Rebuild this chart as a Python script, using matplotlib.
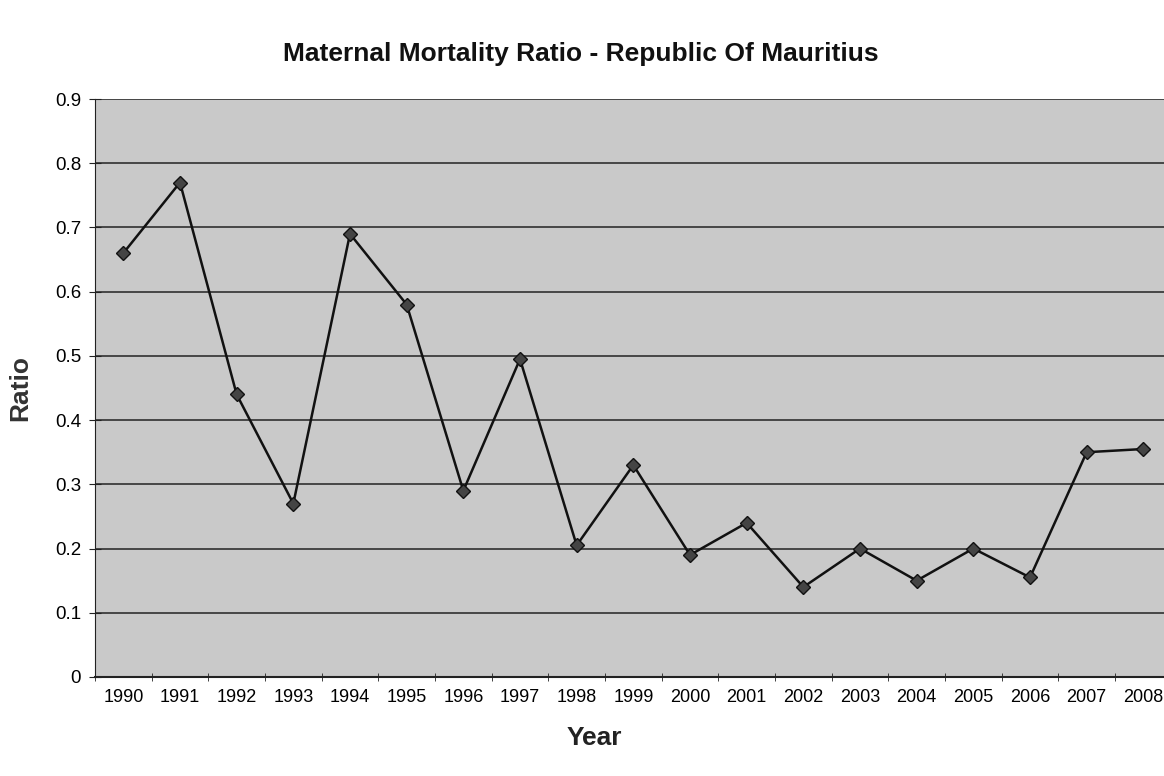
import matplotlib.pyplot as plt
import numpy as np

years = ['1990', '1991', '1992', '1993', '1994', '1995', '1996', '1997', '1998', '1999',
         '2000', '2001', '2002', '2003', '2004', '2005', '2006', '2007', '2008']
ratio = [0.66, 0.77, 0.44, 0.27, 0.69, 0.58, 0.29, 0.495, 0.205, 0.33,
         0.19, 0.24, 0.14, 0.20, 0.15, 0.20, 0.155, 0.35, 0.355]
y_ticks = [0, 0.1, 0.2, 0.3, 0.4, 0.5, 0.6, 0.7, 0.8, 0.9]

plt.rcParams['font.family'] = ['Liberation Sans', 'DejaVu Sans']

fig = plt.figure(figsize=(11.64, 7.76), dpi=100)
ax = fig.add_axes([0.0816, 0.1276, 0.925, 0.7448])
ax.set_facecolor('#c9c9c9')

x = np.arange(len(years))
ax.plot(x, ratio, color='#111111', linewidth=1.8, marker='D', markersize=7,
        markerfacecolor='#444444', markeredgecolor='#111111', zorder=3)

ax.set_xlim(-0.5, len(years) - 0.5)
ax.set_ylim(0, 0.9)
ax.set_yticks(y_ticks)
ax.set_yticklabels(['0'] + ['%.1f' % v for v in y_ticks[1:]], fontsize=13.5)
ax.yaxis.grid(True, color='#222222', linewidth=1.1)
ax.set_axisbelow(True)

# category labels sit between the boundary ticks
ax.set_xticks(x)
ax.set_xticklabels(years, fontsize=13)
ax.tick_params(axis='x', length=0, pad=9)
ax.set_xticks(np.arange(len(years) + 1) - 0.5, minor=True)
ax.tick_params(axis='x', which='minor', length=6, direction='inout', color='#222222')
ax.tick_params(axis='y', length=8, direction='inout', color='#222222', pad=6)

for s in ['top', 'right']:
    ax.spines[s].set_visible(False)
ax.spines['left'].set_color('#222222')
ax.spines['bottom'].set_color('#222222')
ax.spines['bottom'].set_linewidth(1.5)

fig.text(0.017, 0.50, 'Ratio', rotation=90, ha='center', va='center',
         fontsize=19, fontweight='bold', color='#333333')
fig.text(0.511, 0.049, 'Year', ha='center', va='center',
         fontsize=19, fontweight='bold', color='#222222')
fig.text(0.499, 0.930, 'Maternal Mortality Ratio - Republic Of Mauritius',
         ha='center', va='center', fontsize=19, fontweight='bold', color='#111111')

fig.savefig('out.png', dpi=100)
